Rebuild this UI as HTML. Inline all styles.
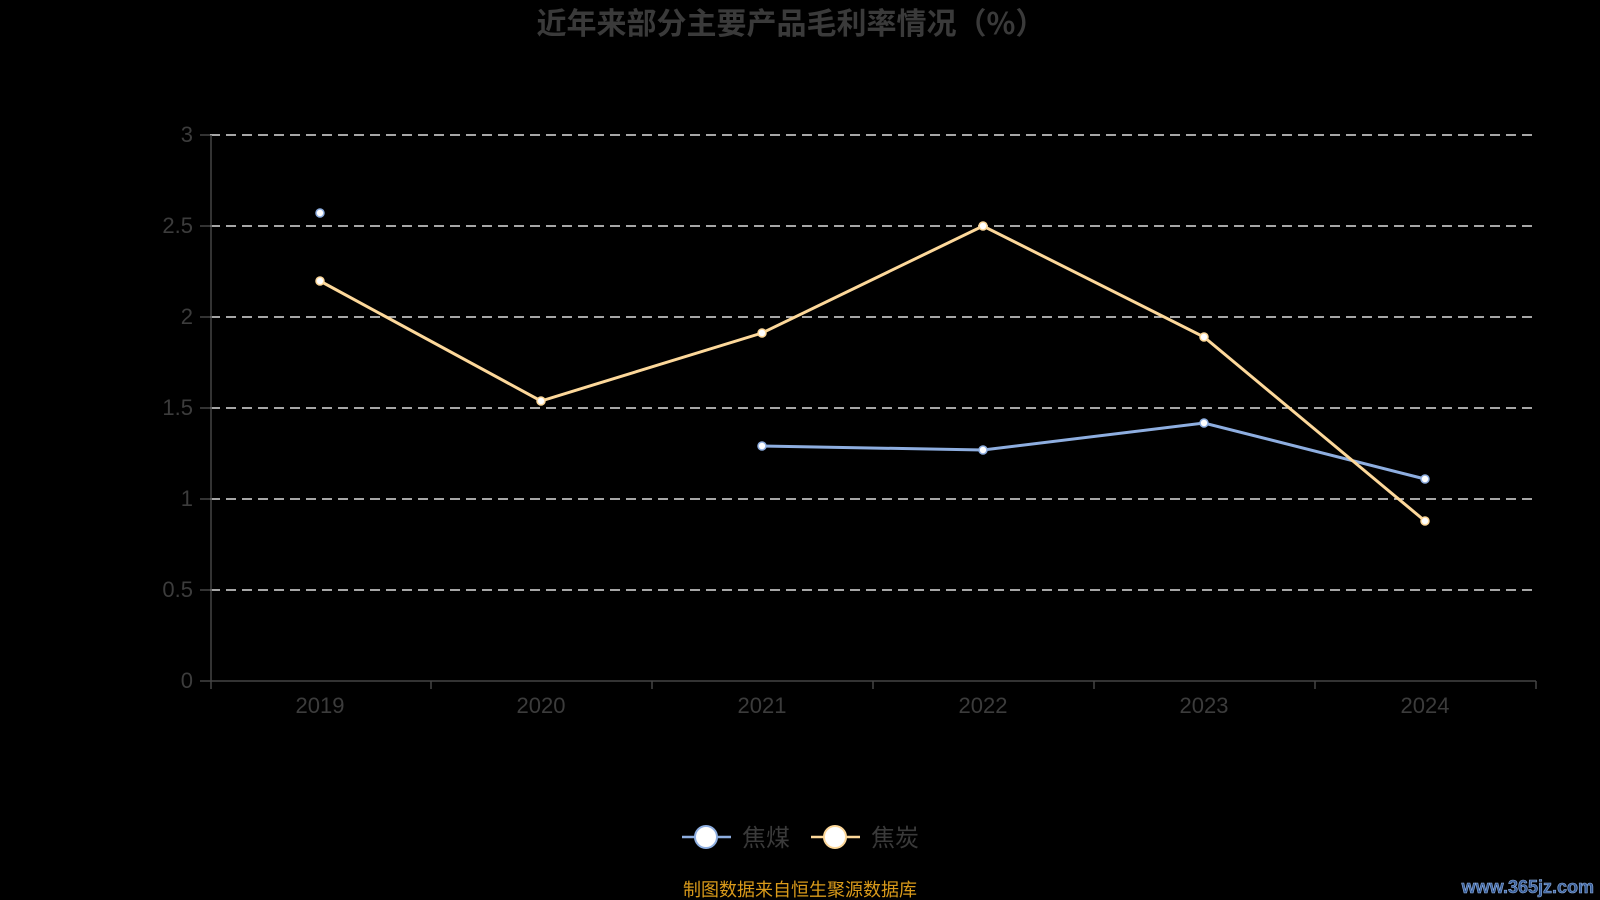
<!DOCTYPE html>
<html><head><meta charset="utf-8"><style>
html,body{margin:0;padding:0;background:#000;width:1600px;height:900px;overflow:hidden}
svg{display:block}
text{font-family:"Liberation Sans","Noto Sans CJK SC",sans-serif}
</style></head><body>
<svg width="1600" height="900" viewBox="0 0 1600 900">
<rect width="1600" height="900" fill="#000"/>
<text x="791" y="34" text-anchor="middle" font-size="30" font-weight="bold" fill="#3a3a3a" style="font-family:'Noto Sans CJK SC',sans-serif">近年来部分主要产品毛利率情况（%）</text>
<g stroke="#ddd" stroke-width="1.6" stroke-dasharray="10,6">
<line x1="210" y1="135" x2="1532" y2="135"/>
<line x1="210" y1="226" x2="1532" y2="226"/>
<line x1="210" y1="317" x2="1532" y2="317"/>
<line x1="210" y1="408" x2="1532" y2="408"/>
<line x1="210" y1="499" x2="1532" y2="499"/>
<line x1="210" y1="590" x2="1532" y2="590"/>
</g>
<g stroke="#444" stroke-width="1.5">
<line x1="211" y1="135" x2="211" y2="681"/>
<line x1="210" y1="681" x2="1536" y2="681"/>
<line x1="200" y1="135" x2="210" y2="135"/><line x1="200" y1="226" x2="210" y2="226"/><line x1="200" y1="317" x2="210" y2="317"/><line x1="200" y1="408" x2="210" y2="408"/><line x1="200" y1="499" x2="210" y2="499"/><line x1="200" y1="590" x2="210" y2="590"/><line x1="200" y1="681" x2="210" y2="681"/>
<line x1="211" y1="681" x2="211" y2="689"/><line x1="431" y1="681" x2="431" y2="689"/><line x1="652" y1="681" x2="652" y2="689"/><line x1="873" y1="681" x2="873" y2="689"/><line x1="1094" y1="681" x2="1094" y2="689"/><line x1="1315" y1="681" x2="1315" y2="689"/><line x1="1536" y1="681" x2="1536" y2="689"/>
</g>
<g font-size="22" fill="#3c3c3c" text-anchor="end">
<text x="193" y="142">3</text><text x="193" y="233">2.5</text><text x="193" y="324">2</text><text x="193" y="415">1.5</text><text x="193" y="506">1</text><text x="193" y="597">0.5</text><text x="193" y="688">0</text>
</g>
<g font-size="22" fill="#3c3c3c" text-anchor="middle">
<text x="320" y="713">2019</text><text x="541" y="713">2020</text><text x="762" y="713">2021</text><text x="983" y="713">2022</text><text x="1204" y="713">2023</text><text x="1425" y="713">2024</text>
</g>
<polyline fill="none" stroke="#8eaee0" stroke-width="3" points="762,446 983,450 1204,423 1425,479"/>
<polyline fill="none" stroke="#fdd89a" stroke-width="3" points="320,281 541,401 762,333 983,226 1204,337 1425,521"/>
<g fill="#fff" stroke="#8eaee0" stroke-width="1.5">
<circle cx="320" cy="213" r="4"/><circle cx="762" cy="446" r="4"/><circle cx="983" cy="450" r="4"/><circle cx="1204" cy="423" r="4"/><circle cx="1425" cy="479" r="4"/>
</g>
<g fill="#fff" stroke="#fdd89a" stroke-width="1.5">
<circle cx="320" cy="281" r="4"/><circle cx="541" cy="401" r="4"/><circle cx="762" cy="333" r="4"/><circle cx="983" cy="226" r="4"/><circle cx="1204" cy="337" r="4"/><circle cx="1425" cy="521" r="4"/>
</g>
<line x1="682" y1="837" x2="731" y2="837" stroke="#8eaee0" stroke-width="2.5"/>
<ellipse cx="706" cy="837" rx="11" ry="11" fill="#fff" stroke="#8eaee0" stroke-width="2"/>
<text x="742" y="846" font-size="24" fill="#3a3a3a">焦煤</text>
<line x1="811" y1="837" x2="860" y2="837" stroke="#fdd89a" stroke-width="2.5"/>
<ellipse cx="835" cy="837" rx="11" ry="11" fill="#fff" stroke="#fdd89a" stroke-width="2"/>
<text x="871" y="846" font-size="24" fill="#3a3a3a">焦炭</text>
<text x="800" y="896" text-anchor="middle" font-size="18" fill="#d99a1a">制图数据来自恒生聚源数据库</text>
<text x="1594" y="893" text-anchor="end" font-size="18" font-weight="bold" fill="#3a5f9a" stroke="#8fb0e0" stroke-width="0.6">www.365jz.com</text>
</svg>
</body></html>
